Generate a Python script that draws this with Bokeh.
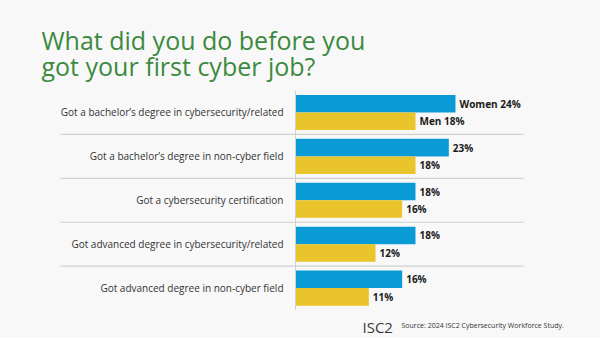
from bokeh.plotting import figure
from bokeh.models import Range1d, ColumnDataSource, Label
from bokeh.core.properties import value
from bokeh.embed import file_html
from bokeh.resources import INLINE

categories = [
    "Got a bachelor\u2019s degree in cybersecurity/related",
    "Got a bachelor\u2019s degree in non-cyber field",
    "Got a cybersecurity certification",
    "Got advanced degree in cybersecurity/related",
    "Got advanced degree in non-cyber field",
]
women = [24, 23, 18, 18, 16]
men = [18, 18, 16, 12, 11]
series_names = ["Women", "Men"]

BLUE = "#0a9bd7"
YELLOW = "#eac42b"
GREEN = "#3b8a3e"
FONT = "Open Sans"

n = len(categories)
idx = list(range(n))

p = figure(width=600, height=338, output_backend="svg", toolbar_location=None,
           x_range=Range1d(-44.25, 45.75), y_range=Range1d(5.148, -2.551),
           min_border=0)
p.axis.visible = False
p.grid.visible = False
p.outline_line_color = None
p.background_fill_color = "#f8f8f8"
p.border_fill_color = "#f8f8f8"

w_lab = [f"{series_names[0]} {v}%" if i == 0 else f"{v}%" for i, v in enumerate(women)]
m_lab = [f"{series_names[1]} {v}%" if i == 0 else f"{v}%" for i, v in enumerate(men)]

src = ColumnDataSource(dict(
    y=idx,
    yw=[i - 0.2 for i in idx],
    ym=[i + 0.2 for i in idx],
    women=women, men=men, cat=categories, wl=w_lab, ml=m_lab,
))

# separators
sep_y = [i + 0.5 for i in idx[:-1]]
p.segment(x0=[-35.25] * len(sep_y), x1=[34.2] * len(sep_y), y0=sep_y, y1=sep_y,
          line_color="#cfcfcf", line_width=1.2)

p.hbar(y="yw", left=0, right="women", height=0.4, source=src, fill_color=BLUE, line_color=None)
p.hbar(y="ym", left=0, right="men", height=0.4, source=src, fill_color=YELLOW, line_color=None)

# axis line
p.segment(x0=[0], x1=[0], y0=[-0.5], y1=[n - 0.5], line_color="#d0d0d0", line_width=1)

p.text(x=-1.8, y="y", text="cat", source=src, text_align="right", text_baseline="middle",
       text_font=value(FONT), text_font_size="10px", text_color="#333333")
p.text(x="women", y="yw", text="wl", source=src, x_offset=4, text_baseline="middle",
       text_font=value(FONT), text_font_size="10px", text_font_style="bold", text_color="#1a1a1a")
p.text(x="men", y="ym", text="ml", source=src, x_offset=4, text_baseline="middle",
       text_font=value(FONT), text_font_size="10px", text_font_style="bold", text_color="#1a1a1a")

for txt, yb in [("What did you do before you", 299), ("got your first cyber job?", 273)]:
    p.add_layout(Label(x=41, y=yb, x_units="screen", y_units="screen", text=txt,
                       text_font=FONT, text_font_size="25px", text_color=GREEN,
                       text_baseline="alphabetic"))

p.add_layout(Label(x=362, y=12, x_units="screen", y_units="screen", text="ISC2",
                   text_font=FONT, text_font_size="15px", text_color="#3a3a3a",
                   text_baseline="alphabetic"))
p.add_layout(Label(x=401, y=13, x_units="screen", y_units="screen",
                   text="Source: 2024 ISC2 Cybersecurity Workforce Study.",
                   text_font=FONT, text_font_size="7px", text_color="#333333",
                   text_baseline="alphabetic"))

open("out.html", "w").write(file_html(p, INLINE))
